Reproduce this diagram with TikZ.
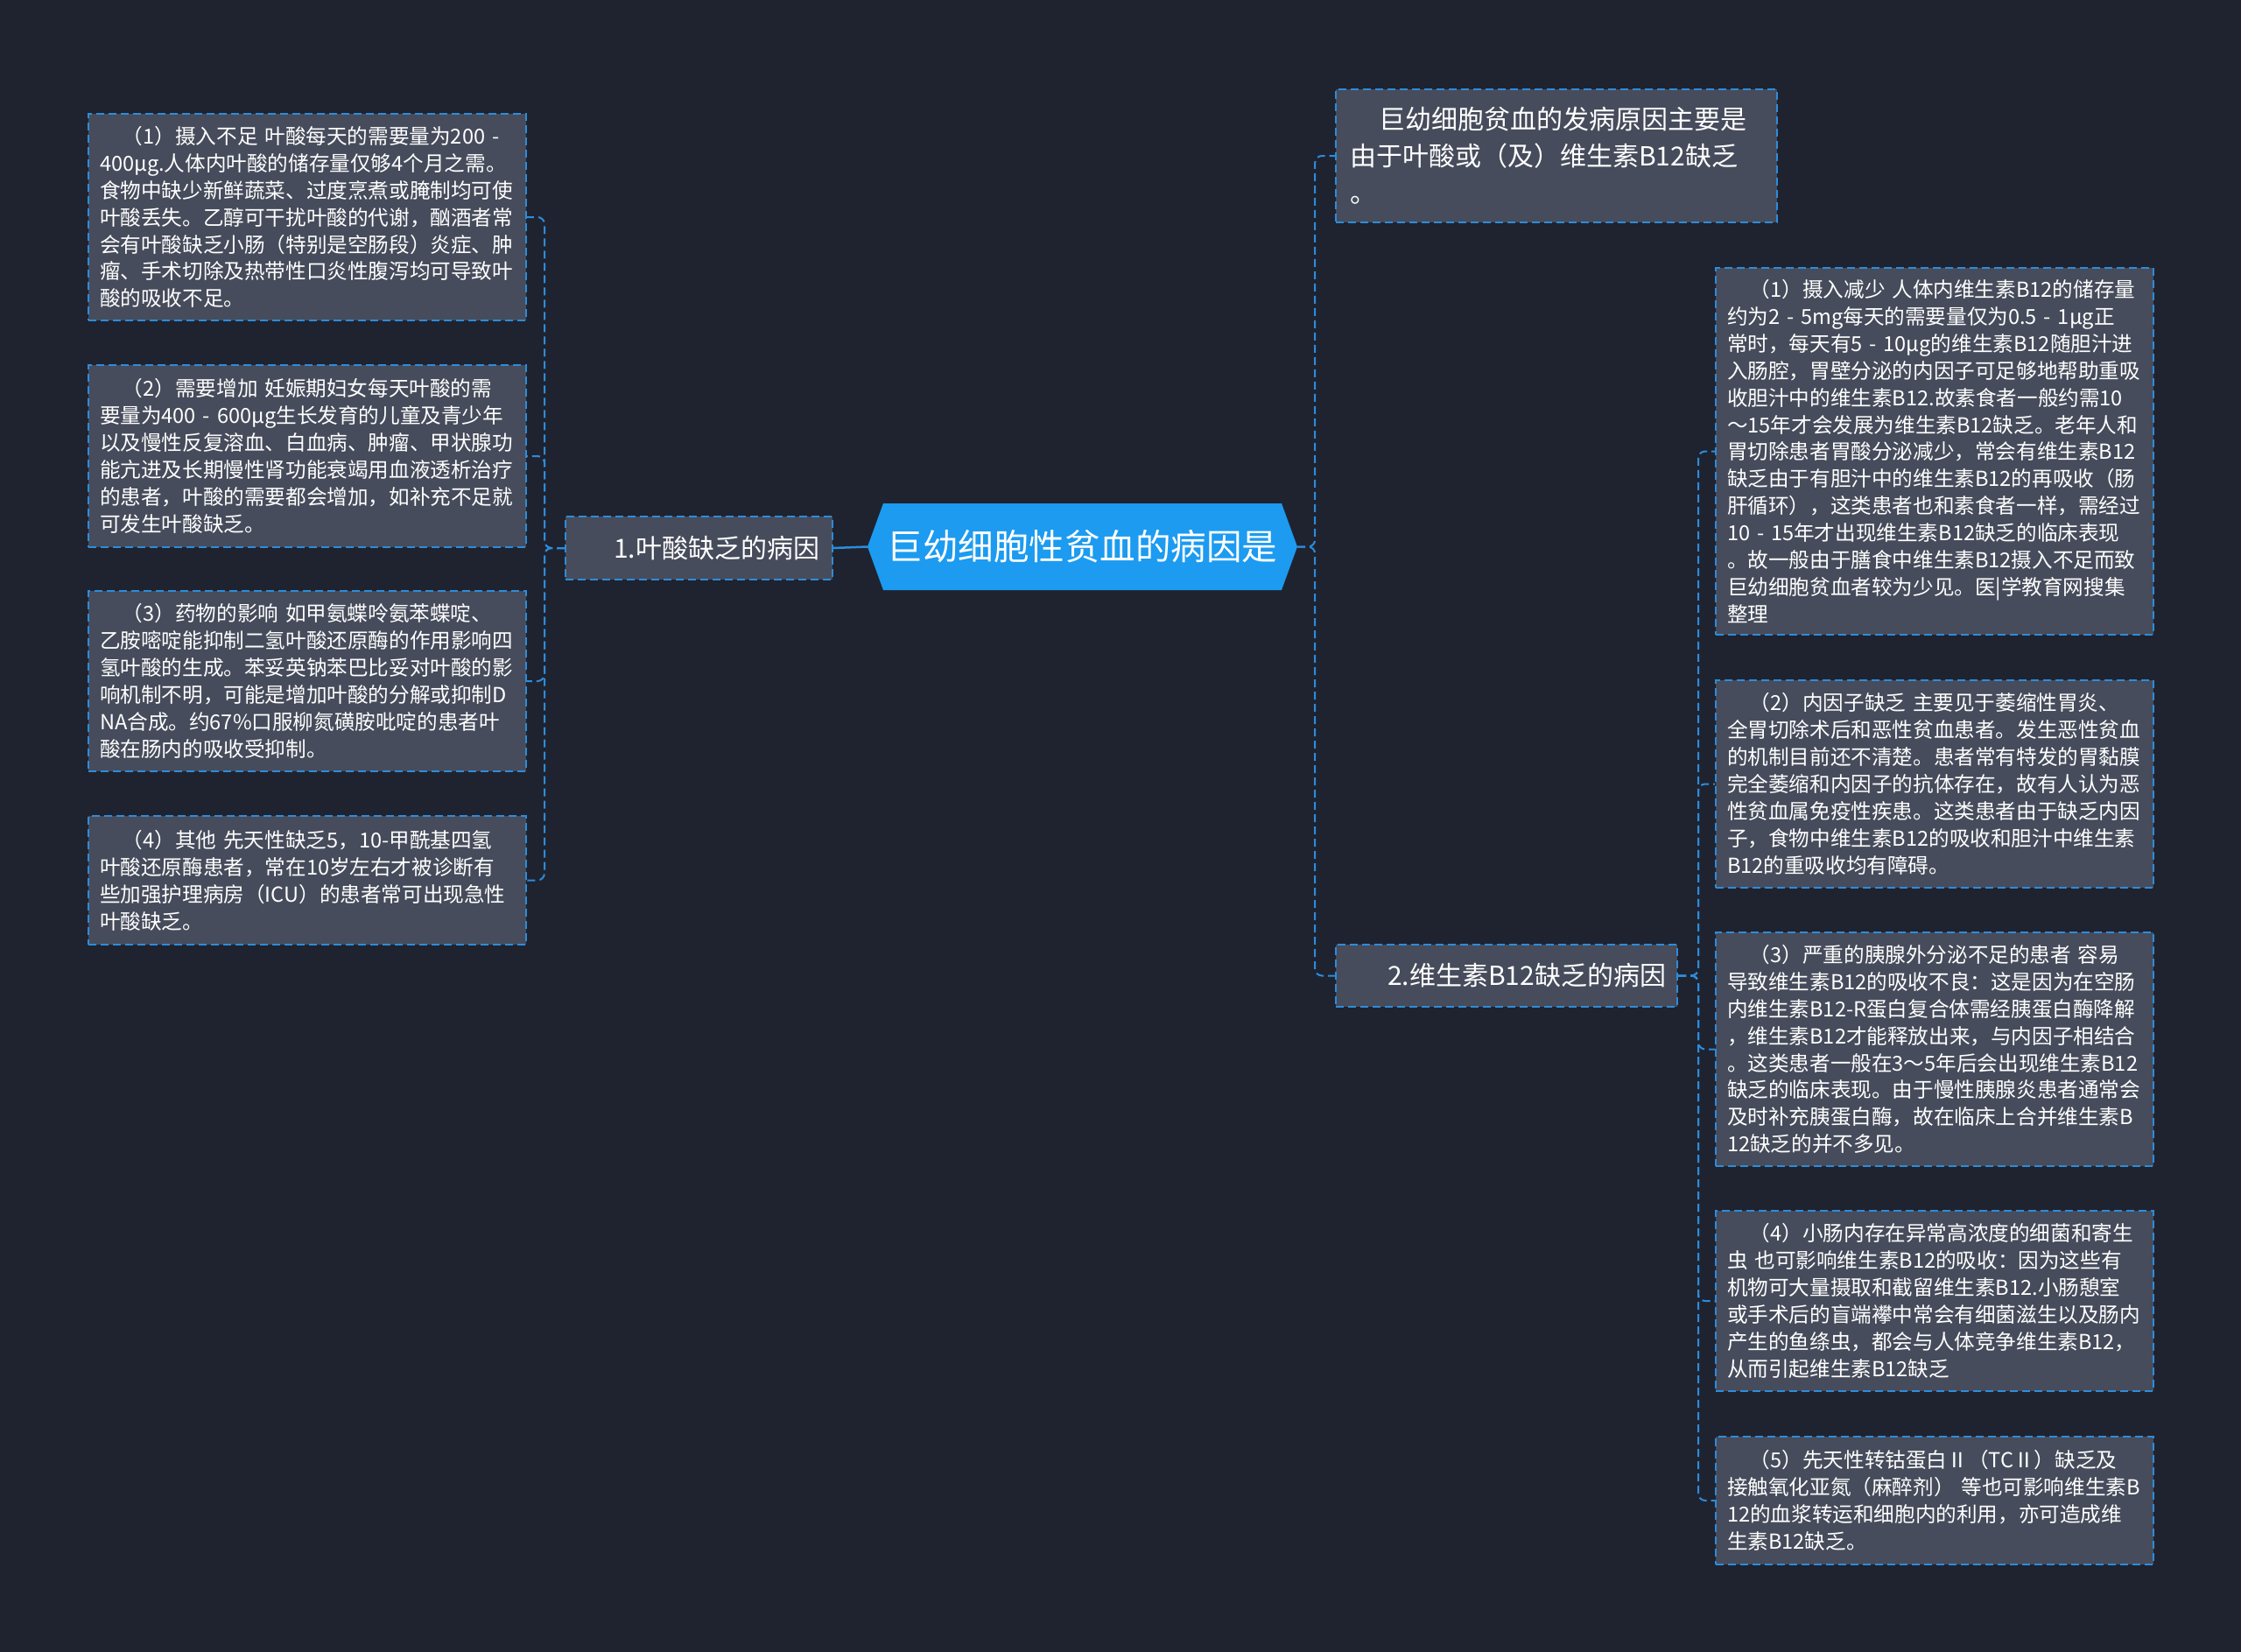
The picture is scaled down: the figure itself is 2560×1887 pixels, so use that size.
\documentclass[tikz,border=0pt]{standalone}
\usepackage{fontspec}
\setmainfont{Noto Sans CJK SC}
\usetikzlibrary{calc}
\definecolor{bgc}{HTML}{1F2330}
\definecolor{boxc}{HTML}{464C5B}
\definecolor{linec}{HTML}{2D8CDB}
\definecolor{cblue}{HTML}{1C9BF0}
\newcommand\leaffont{\fontsize{23.6pt}{30.9pt}\selectfont}
\newcommand\midfont{\fontsize{30pt}{36pt}\selectfont}
\newcommand\topfont{\fontsize{30pt}{42pt}\selectfont}
\newcommand\cenfont{\fontsize{40.5pt}{48pt}\selectfont}
\begin{document}
\begin{tikzpicture}[x=1pt,y=1pt,
  dashedge/.style={draw=linec, line width=2pt, dash pattern=on 9pt off 5pt},
  leaf/.style={dashedge, fill=boxc, text=white, font=\leaffont, align=left,
    text width=474pt, inner xsep=13pt, inner ysep=0pt, anchor=north west,
    minimum height=#1},
  topleaf/.style={dashedge, fill=boxc, text=white, font=\topfont, align=left,
    text width=472pt, inner xsep=16pt, inner ysep=0pt, anchor=north west,
    minimum height=#1},
  midbox/.style={dashedge, fill=boxc, text=white, font=\midfont, align=right,
    inner ysep=0pt, anchor=north west, minimum height=#1},
  conn/.style={dashedge, rounded corners=8pt},
  mainconn/.style={draw=linec, line width=2.5pt}
]
\useasboundingbox (0,0) rectangle (2560,-1887);
\fill[bgc] (0,0) rectangle (2560,-1887);

% central node
\coordinate (cc) at (1236.5,-624.5);
\fill[cblue] ($(cc)+(-245.5,0)$) -- ++(18,49.5) -- ++(455,0) -- ++(18,-49.5)
  -- ++(-18,-49.5) -- ++(-455,0) -- cycle;
\node[font=\cenfont, text=white, minimum width=491pt, minimum height=99pt, inner sep=0pt] (c) at (cc) {巨幼细胞性贫血的病因是};

% level 1
\node[midbox=72pt, text width=275pt, inner xsep=15pt] (n1) at (645,-589) {1.叶酸缺乏的病因};
\node[midbox=71pt, text width=364pt, inner xsep=13pt] (n2) at (1525,-1078) {2.维生素B12缺乏的病因};
\node[topleaf=152pt] (tr) at (1525,-101) {\hspace*{1.1em}巨幼细胞贫血的发病原因主要是\\由于叶酸或（及）维生素B12缺乏\\。};

% left leaves
\node[leaf=236pt] (l1) at (100,-129) {\hspace*{1.1em}（1）摄入不足~叶酸每天的需要量为200~-\\400μg.人体内叶酸的储存量仅够4个月之需。\\食物中缺少新鲜蔬菜、过度烹煮或腌制均可使\\叶酸丢失。乙醇可干扰叶酸的代谢，酗酒者常\\会有叶酸缺乏小肠（特别是空肠段）炎症、肿\\瘤、手术切除及热带性口炎性腹泻均可导致叶\\酸的吸收不足。};
\node[leaf=208pt] (l2) at (100,-416) {\hspace*{1.1em}（2）需要增加~妊娠期妇女每天叶酸的需\\要量为400~-~600μg生长发育的儿童及青少年\\以及慢性反复溶血、白血病、肿瘤、甲状腺功\\能亢进及长期慢性肾功能衰竭用血液透析治疗\\的患者，叶酸的需要都会增加，如补充不足就\\可发生叶酸缺乏。};
\node[leaf=206pt] (l3) at (100,-674) {\hspace*{1.1em}（3）药物的影响~如甲氨蝶呤氨苯蝶啶、\\乙胺嘧啶能抑制二氢叶酸还原酶的作用影响四\\氢叶酸的生成。苯妥英钠苯巴比妥对叶酸的影\\响机制不明，可能是增加叶酸的分解或抑制D\\NA合成。约67\%口服柳氮磺胺吡啶的患者叶\\酸在肠内的吸收受抑制。};
\node[leaf=147pt] (l4) at (100,-931) {\hspace*{1.1em}（4）其他~先天性缺乏5，10-甲酰基四氢\\叶酸还原酶患者，常在10岁左右才被诊断有\\些加强护理病房（ICU）的患者常可出现急性\\叶酸缺乏。};

% right leaves
\node[leaf=419pt] (r1) at (1959,-305) {\hspace*{1.1em}（1）摄入减少~人体内维生素B12的储存量\\约为2~-~5mg每天的需要量仅为0.5~-~1μg正\\常时，每天有5~-~10μg的维生素B12随胆汁进\\入肠腔，胃壁分泌的内因子可足够地帮助重吸\\收胆汁中的维生素B12.故素食者一般约需10\\～15年才会发展为维生素B12缺乏。老年人和\\胃切除患者胃酸分泌减少，常会有维生素B12\\缺乏由于有胆汁中的维生素B12的再吸收（肠\\肝循环），这类患者也和素食者一样，需经过\\10~-~15年才出现维生素B12缺乏的临床表现\\。故一般由于膳食中维生素B12摄入不足而致\\巨幼细胞贫血者较为少见。医|学教育网搜集\\整理};
\node[leaf=237pt] (r2) at (1959,-776) {\hspace*{1.1em}（2）内因子缺乏~主要见于萎缩性胃炎、\\全胃切除术后和恶性贫血患者。发生恶性贫血\\的机制目前还不清楚。患者常有特发的胃黏膜\\完全萎缩和内因子的抗体存在，故有人认为恶\\性贫血属免疫性疾患。这类患者由于缺乏内因\\子，食物中维生素B12的吸收和胆汁中维生素\\B12的重吸收均有障碍。};
\node[leaf=267pt] (r3) at (1959,-1064) {\hspace*{1.1em}（3）严重的胰腺外分泌不足的患者~容易\\导致维生素B12的吸收不良：这是因为在空肠\\内维生素B12-R蛋白复合体需经胰蛋白酶降解\\，维生素B12才能释放出来，与内因子相结合\\。这类患者一般在3～5年后会出现维生素B12\\缺乏的临床表现。由于慢性胰腺炎患者通常会\\及时补充胰蛋白酶，故在临床上合并维生素B\\12缺乏的并不多见。};
\node[leaf=206pt] (r4) at (1959,-1382) {\hspace*{1.1em}（4）小肠内存在异常高浓度的细菌和寄生\\虫~也可影响维生素B12的吸收：因为这些有\\机物可大量摄取和截留维生素B12.小肠憩室\\或手术后的盲端襻中常会有细菌滋生以及肠内\\产生的鱼绦虫，都会与人体竞争维生素B12，\\从而引起维生素B12缺乏};
\node[leaf=146pt] (r5) at (1959,-1640) {\hspace*{1.1em}（5）先天性转钴蛋白Ⅱ（TCⅡ）缺乏及\\接触氧化亚氮（麻醉剂）~等也可影响维生素B\\12的血浆转运和细胞内的利用，亦可造成维\\生素B12缺乏。};

% connectors
\draw[mainconn] (c.west) -- (n1.east);
\foreach \t in {l1,l2,l3,l4} \draw[conn] (n1.west) -- ++(-23,0) |- (\t.east);
\foreach \t in {tr,n2} \draw[conn] (c.east) -- ++(20,0) |- (\t.west);
\foreach \t in {r1,r2,r3,r4,r5} \draw[conn] (n2.east) -- ++(23,0) |- (\t.west);
\end{tikzpicture}
\end{document}
